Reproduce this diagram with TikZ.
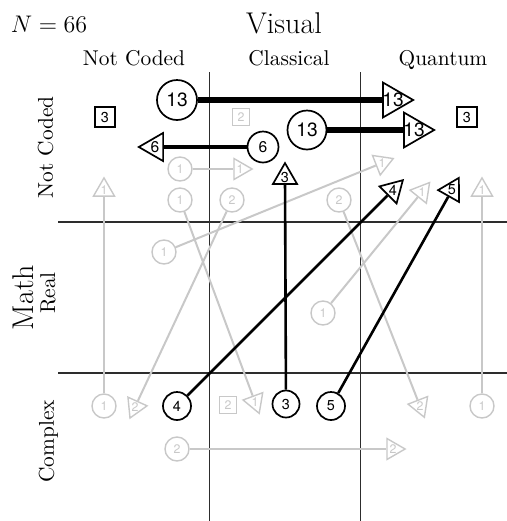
\documentclass[tikz,border=0pt]{standalone}
\usepackage{fontspec}
\newfontfamily\numfont{TeX Gyre Heros}
\usetikzlibrary{shapes.geometric}
\definecolor{lgray}{RGB}{200,200,200}
\definecolor{gridc}{RGB}{45,45,45}
\begin{document}
\begin{tikzpicture}[x=0.5pt,y=-0.5pt,
  blk/.style={draw=black, line width=0.85pt, inner sep=0pt, text=black},
  gry/.style={draw=lgray, line width=0.7pt, inner sep=0pt, text=lgray},
  circ/.style={circle, minimum size=#1},
  tri/.style 2 args={regular polygon, regular polygon sides=3, minimum size=#1, regular polygon rotate=#2},
  sqr/.style={rectangle, minimum size=#1},
  fA/.style={font=\numfont\fontsize{9.6}{10}\selectfont},
  fB/.style={font=\numfont\fontsize{7.8}{8}\selectfont},
  fC/.style={font=\numfont\fontsize{7.2}{8}\selectfont},
  fD/.style={font=\numfont\fontsize{6.2}{7}\selectfont},
  gl/.style={fD, text=lgray},
  gridline/.style={draw=gridc, line width=0.85pt},
  eA/.style={draw=black, line width=2.8pt},
  eB/.style={draw=black, line width=2pt},
  eC/.style={draw=black, line width=1.3pt},
  eG/.style={draw=lgray, line width=1pt},
  big/.style={font=\fontsize{15}{18}\selectfont},
  mid/.style={font=\fontsize{10.7}{13}\selectfont},
]
\useasboundingbox (0,0) rectangle (507,521);

% grid
\coordinate (v1t) at (209.5,72);  \coordinate (v1b) at (209.5,521);
\coordinate (v2t) at (360.5,72);  \coordinate (v2b) at (360.5,521);
\coordinate (h1l) at (58,222);    \coordinate (h1r) at (507,222);
\coordinate (h2l) at (58,373);    \coordinate (h2r) at (507,373);
\draw[gridline] (v1t) -- (v1b);
\draw[gridline] (v2t) -- (v2b);
\draw[gridline] (h1l) -- (h1r);
\draw[gridline] (h2l) -- (h2r);

% titles and labels
\node[font=\fontsize{11.5}{13}\selectfont, anchor=base] (ntot) at (49,32) {$N = 66$};
\node[big, anchor=base] (visual) at (284,33) {Visual};
\node[mid, anchor=base] (colA) at (134,65) {Not Coded};
\node[mid, anchor=base] (colB) at (289,65) {Classical};
\node[mid, anchor=base] (colC) at (443,65) {Quantum};
\node[big, anchor=base, rotate=90] (math) at (33,297.5) {Math};
\node[mid, anchor=base, rotate=90] (rowA) at (53,147.5) {Not Coded};
\node[mid, anchor=base, rotate=90] (rowB) at (55,293) {Real};
\node[mid, anchor=base, rotate=90] (rowC) at (54,441.5) {Complex};

% gray nodes
\node[gry, sqr=8.5pt, fD] (sg2a) at (241,117) {2};
\node[gry, sqr=8.5pt, fD] (sg2b) at (228,405) {2};
\node[gry, circ=12pt, fD] (cg1a) at (180,169) {1};
\node[gry, tri={12.1pt}{-90}, label={[gl]center:1}] (tg1a) at (240,169) {};
\node[gry, circ=12pt, fD] (cg1b) at (104,406) {1};
\node[gry, tri={12.1pt}{0}, label={[gl]center:1}] (tg1b) at (104,190) {};
\node[gry, circ=12pt, fD] (cg1c) at (482,406) {1};
\node[gry, tri={12.1pt}{0}, label={[gl]center:1}] (tg1c) at (482,190) {};
\node[gry, circ=12pt, fD] (cg1d) at (164,252) {1};
\node[gry, tri={12.1pt}{-68.4}, label={[gl]center:1}] (tg1d) at (382,163) {};
\node[gry, circ=12pt, fD] (cg1e) at (323,313) {1};
\node[gry, tri={12.1pt}{-38.8}, label={[gl]center:1}] (tg1e) at (422,192) {};
\node[gry, circ=12pt, fD] (cg1f) at (180,200) {1};
\node[gry, tri={12.1pt}{-159.6}, label={[gl]center:1}] (tg1f) at (255,402) {};
\node[gry, circ=12pt, fD] (cg2a) at (232,200) {2};
\node[gry, tri={12.1pt}{155.6}, label={[gl]center:2}] (tg2a) at (135,407) {};
\node[gry, circ=12pt, fD] (cg2b) at (339,200) {2};
\node[gry, tri={12.1pt}{-158.8}, label={[gl]center:2}] (tg2b) at (420,406) {};
\node[gry, circ=12pt, fD] (cg2c) at (177,449) {2};
\node[gry, tri={12.1pt}{-90}, label={[gl]center:2}] (tg2c) at (393,449) {};

\draw[eG] (cg1a) -- (tg1a);
\draw[eG] (cg1b) -- (tg1b);
\draw[eG] (cg1c) -- (tg1c);
\draw[eG] (cg1d) -- (tg1d);
\draw[eG] (cg1e) -- (tg1e);
\draw[eG] (cg1f) -- (tg1f);
\draw[eG] (cg2a) -- (tg2a);
\draw[eG] (cg2b) -- (tg2b);
\draw[eG] (cg2c) -- (tg2c);

% black nodes
\node[blk, sqr=10pt, fC] (sq3a) at (105,117) {3};
\node[blk, sqr=10pt, fC] (sq3b) at (467,117) {3};
\node[blk, circ=20pt, fA] (c13a) at (177,100) {13};
\node[blk, tri={20.2pt}{-90}, label={[fA]center:13}] (t13a) at (393,100) {};
\node[blk, circ=19.5pt, fA] (c13b) at (307,130) {13};
\node[blk, tri={20.2pt}{-90}, label={[fA]center:13}] (t13b) at (414,130) {};
\node[blk, circ=15.5pt, fB] (c6) at (263,147) {6};
\node[blk, tri={16.2pt}{90}, label={[fB]center:6}] (t6) at (155,147) {};
\node[blk, circ=13.5pt, fC] (c3) at (286,404) {3};
\node[blk, tri={13.9pt}{0}, label={[fC]center:3}] (t3) at (285,177) {};
\node[blk, circ=14pt, fC] (c4) at (177,406) {4};
\node[blk, tri={13.9pt}{-45.1}, label={[fC]center:4}] (t4) at (393,190) {};
\node[blk, circ=14pt, fC] (c5) at (331,406) {5};
\node[blk, tri={13.9pt}{-29.5}, label={[fC]center:5}] (t5) at (452,190) {};

\draw[eA] (c13a) -- (t13a);
\draw[eA] (c13b) -- (t13b);
\draw[eB] (c6) -- (t6);
\draw[eC] (c3) -- (t3);
\draw[eC] (c4) -- (t4);
\draw[eC] (c5) -- (t5);
\end{tikzpicture}
\end{document}
